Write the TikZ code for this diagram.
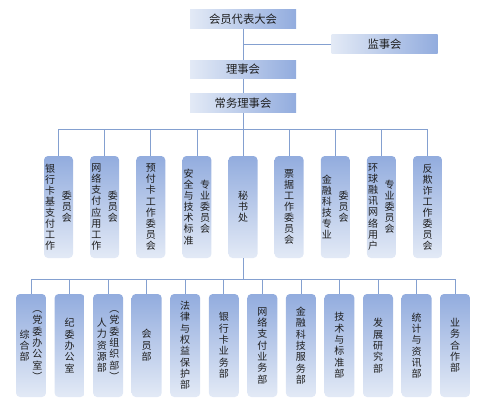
\documentclass[tikz,border=0pt]{standalone}
\usepackage{fontspec}
\newfontfamily\cjk{Noto Sans CJK SC}
\usepackage{xcolor}
\usepackage{tikz}

\definecolor{boxdark}{RGB}{146,172,222}
\definecolor{boxlight}{RGB}{227,234,246}
\definecolor{linkblue}{RGB}{132,160,208}
\definecolor{txt}{RGB}{30,30,30}

\newcommand{\vcol}[1]{\parbox{1em}{\centering#1}}

\begin{document}
\begin{tikzpicture}[x=0.75pt,y=-0.75pt,
    topbox/.style={left color=boxlight,right color=boxdark,minimum width=79.5pt,
        minimum height=13.9pt,inner sep=0pt,text=txt,font=\cjk\fontsize{8.5}{10}\selectfont},
    wybox/.style={top color=boxdark,bottom color=boxlight,rounded corners=3pt,
        minimum width=21.75pt,minimum height=76.5pt,inner sep=0pt,text=txt,
        font=\cjk\fontsize{7.5}{8.3}\selectfont},
    bmbox/.style={top color=boxdark,bottom color=boxlight,rounded corners=3pt,
        minimum width=22.5pt,minimum height=77.25pt,inner sep=0pt,text=txt,
        font=\cjk\fontsize{7.5}{8.5}\selectfont},
    link/.style={draw=linkblue,line width=0.6pt}]
    \useasboundingbox (0,0) rectangle (499,411);

    % leadership
    \node[topbox] (dbdh) at (243,19) {会员代表大会};
    \node[topbox] (jsh) at (384.5,44) {监事会};
    \node[topbox] (lsh) at (243,69.5) {理事会};
    \node[topbox] (cwlsh) at (243,103) {常务理事会};

    % committees
    \node[wybox] (yhk) at (58.5,207) {\vcol{银\\行\\卡\\基\\支\\付\\工\\作}\hspace{5pt}\vcol{委\\员\\会}};
    \node[wybox] (wlzf) at (104.6,207) {\vcol{网\\络\\支\\付\\应\\用\\工\\作}\hspace{5pt}\vcol{委\\员\\会}};
    \node[wybox] (yfk) at (150.75,207) {\vcol{预\\付\\卡\\工\\作\\委\\员\\会}};
    \node[wybox] (aqjs) at (196.9,207) {\vcol{安\\全\\与\\技\\术\\标\\准}\hspace{5pt}\vcol{专\\业\\委\\员\\会}};
    \node[wybox] (msc) at (243,207) {\vcol{秘\\书\\处}};
    \node[wybox] (pj) at (289.1,207) {\vcol{票\\据\\工\\作\\委\\员\\会}};
    \node[wybox] (jrkj) at (335.25,207) {\vcol{金\\融\\科\\技\\专\\业}\hspace{5pt}\vcol{委\\员\\会}};
    \node[wybox] (hqrx) at (381.4,207) {\vcol{环\\球\\融\\讯\\网\\络\\用\\户}\hspace{5pt}\vcol{专\\业\\委\\员\\会}};
    \node[wybox] (fqz) at (427.5,207) {\vcol{反\\欺\\诈\\工\\作\\委\\员\\会}};

    % departments
    \node[bmbox] (zhb) at (31,345.5) {\vcol{综\\合\\部}\hspace{2pt}\vcol{︵\\党\\委\\办\\公\\室\\︶}};
    \node[bmbox] (jwb) at (69.6,345.5) {\vcol{纪\\委\\办\\公\\室}};
    \node[bmbox] (rlzy) at (108.1,345.5) {\vcol{人\\力\\资\\源\\部}\hspace{2pt}\vcol{︵\\党\\委\\组\\织\\部\\︶}};
    \node[bmbox] (hyb) at (146.7,345.5) {\vcol{会\\员\\部}};
    \node[bmbox] (flqy) at (185.2,345.5) {\vcol{法\\律\\与\\权\\益\\保\\护\\部}};
    \node[bmbox] (yhkyw) at (223.8,345.5) {\vcol{银\\行\\卡\\业\\务\\部}};
    \node[bmbox] (wlzfyw) at (262.3,345.5) {\vcol{网\\络\\支\\付\\业\\务\\部}};
    \node[bmbox] (jrkjfw) at (300.9,345.5) {\vcol{金\\融\\科\\技\\服\\务\\部}};
    \node[bmbox] (jsbz) at (339.4,345.5) {\vcol{技\\术\\与\\标\\准\\部}};
    \node[bmbox] (fzyj) at (378,345.5) {\vcol{发\\展\\研\\究\\部}};
    \node[bmbox] (tjzx) at (416.5,345.5) {\vcol{统\\计\\与\\资\\讯\\部}};
    \node[bmbox] (ywhz) at (455,345.5) {\vcol{业\\务\\合\\作\\部}};

    % connectors
    \coordinate (bus1) at (243,129);
    \coordinate (bus2) at (243,279);
    \draw[link] (dbdh.south) -- (lsh.north);
    \draw[link] (lsh.south) -- (cwlsh.north);
    \draw[link] (cwlsh.south) -- (msc.north);
    \draw[link] (msc.south) -- (bus2);
    \draw[link] (jsh.west) -- (jsh.west -| dbdh.south);
    \foreach \n in {yhk,wlzf,yfk,aqjs,pj,jrkj,hqrx,fqz}
        \draw[link] (\n.north) |- (bus1);
    \foreach \n in {zhb,jwb,rlzy,hyb,flqy,yhkyw,wlzfyw,jrkjfw,jsbz,fzyj,tjzx,ywhz}
        \draw[link] (\n.north) |- (bus2);
\end{tikzpicture}
\end{document}
